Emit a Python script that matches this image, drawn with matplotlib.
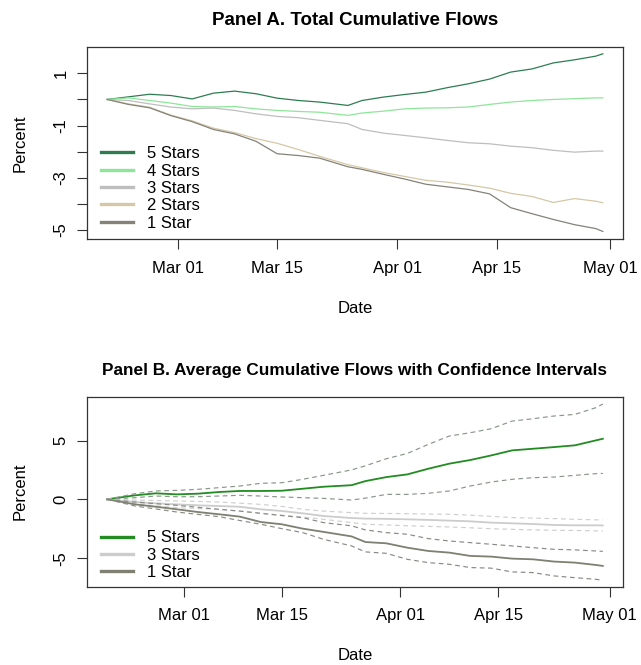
import matplotlib
matplotlib.use('Agg')
import matplotlib.pyplot as plt
import matplotlib.dates as mdates
import pandas as pd

plt.rcParams['font.family'] = ['Liberation Sans', 'DejaVu Sans']

# ---- Panel A: total cumulative flows (percent) ----
dates_a = ['2020-02-20', '2020-02-23', '2020-02-26', '2020-02-29', '2020-03-03',
           '2020-03-06', '2020-03-09', '2020-03-12', '2020-03-15', '2020-03-18',
           '2020-03-21', '2020-03-25', '2020-03-27', '2020-03-30', '2020-04-02',
           '2020-04-05', '2020-04-08', '2020-04-11', '2020-04-14', '2020-04-17',
           '2020-04-20', '2020-04-23', '2020-04-26', '2020-04-29', '2020-04-30']
a_5 = [0, 0.1, 0.2, 0.15, 0.02, 0.24, 0.32, 0.22, 0.05, -0.04, -0.1, -0.23, -0.04,
       0.09, 0.19, 0.28, 0.45, 0.6, 0.78, 1.05, 1.17, 1.4, 1.52, 1.66, 1.75]
a_4 = [0, 0.06, -0.04, -0.14, -0.27, -0.29, -0.27, -0.36, -0.42, -0.46, -0.49, -0.61,
       -0.52, -0.45, -0.36, -0.33, -0.32, -0.29, -0.19, -0.1, -0.04, 0.0, 0.03, 0.06, 0.06]
a_3 = [0, -0.04, -0.17, -0.29, -0.36, -0.33, -0.42, -0.55, -0.65, -0.7, -0.8, -0.93,
       -1.15, -1.29, -1.38, -1.47, -1.57, -1.66, -1.7, -1.79, -1.85, -1.95, -2.02, -1.98, -1.98]
a_2 = [0, -0.17, -0.3, -0.6, -0.82, -1.1, -1.27, -1.5, -1.68, -1.92, -2.18, -2.5, -2.62,
       -2.8, -2.95, -3.1, -3.17, -3.28, -3.4, -3.6, -3.72, -3.95, -3.8, -3.9, -3.96]
a_1 = [0, -0.19, -0.32, -0.62, -0.85, -1.15, -1.32, -1.6, -2.08, -2.15, -2.25, -2.58,
       -2.68, -2.87, -3.05, -3.25, -3.35, -3.45, -3.62, -4.15, -4.38, -4.6, -4.8, -4.95, -5.06]

# ---- Panel B: average cumulative flows with confidence intervals ----
dates_b = ['2020-02-19'] + dates_a[1:]
b_5 = [0, 0.34, 0.51, 0.42, 0.48, 0.62, 0.71, 0.71, 0.73, 0.9, 1.07, 1.2, 1.55, 1.89,
       2.12, 2.6, 3.03, 3.34, 3.73, 4.16, 4.3, 4.44, 4.59, 5.01, 5.15]
b_5_hi = [0, 0.48, 0.71, 0.76, 0.85, 0.99, 1.13, 1.36, 1.41, 1.7, 2.04, 2.5, 2.85, 3.45,
          3.9, 4.67, 5.38, 5.66, 6.0, 6.65, 6.85, 7.08, 7.22, 7.79, 8.1]
b_5_lo = [0, 0.14, 0.28, 0.22, 0.22, 0.28, 0.34, 0.28, 0.2, 0.14, 0.08, -0.06, 0.1, 0.42,
          0.42, 0.51, 0.71, 1.13, 1.47, 1.7, 1.84, 1.89, 2.04, 2.18, 2.2]
b_3 = [0, -0.23, -0.34, -0.43, -0.51, -0.57, -0.63, -0.85, -0.99, -1.19, -1.42, -1.59,
       -1.64, -1.66, -1.7, -1.75, -1.81, -1.87, -1.98, -2.04, -2.1, -2.18, -2.21, -2.21, -2.22]
b_3_hi = [0, -0.06, -0.1, -0.14, -0.18, -0.23, -0.33, -0.43, -0.6, -0.85, -1.0, -1.13,
          -1.19, -1.2, -1.22, -1.25, -1.27, -1.35, -1.45, -1.55, -1.6, -1.64, -1.7, -1.74, -1.76]
b_3_lo = [0, -0.37, -0.55, -0.71, -0.78, -0.85, -1.0, -1.19, -1.35, -1.5, -1.7, -1.98,
          -2.12, -2.18, -2.25, -2.3, -2.35, -2.42, -2.5, -2.55, -2.6, -2.63, -2.65, -2.68, -2.69]
b_1 = [0, -0.43, -0.63, -0.85, -1.08, -1.27, -1.47, -1.93, -2.12, -2.49, -2.77, -3.15,
       -3.63, -3.74, -4.11, -4.39, -4.53, -4.81, -4.87, -5.04, -5.1, -5.29, -5.38, -5.58, -5.66]
b_1_hi = [0, -0.23, -0.37, -0.51, -0.68, -0.85, -1.0, -1.19, -1.38, -1.56, -1.98, -2.25,
          -2.6, -2.83, -2.97, -3.34, -3.54, -3.68, -3.82, -3.96, -4.11, -4.25, -4.3, -4.39, -4.42]
b_1_lo = [0, -0.57, -0.82, -1.08, -1.28, -1.47, -1.8, -2.12, -2.49, -2.83, -3.4, -3.96,
          -4.47, -4.59, -5.1, -5.38, -5.52, -5.8, -5.85, -6.17, -6.23, -6.51, -6.66, -6.8, -6.88]

labels_a = ['5 Stars', '4 Stars', '3 Stars', '2 Stars', '1 Star']
colors_a = ['#2e7d52', '#8ee69a', '#bebebe', '#d4c8a6', '#85827a']
labels_b = ['5 Stars', '3 Stars', '1 Star']
colors_b = ['#228b22', '#cccccc', '#7f7f72']
ci_colors = ['#8a968a', '#cfcfcf', '#8a8a84']


def style(ax, title, title_size, yticks, yticklabels, ylim, dates):
    d = pd.to_datetime(dates)
    span = d[-1] - d[0]
    ax.set_xlim(d[0] - 0.04 * span, d[-1] + 0.04 * span)
    ax.set_ylim(*ylim)
    ax.set_yticks(yticks)
    ax.set_yticklabels(yticklabels, rotation=90, va='center')
    ax.xaxis.set_major_locator(mdates.MonthLocator(bymonthday=(1, 15)))
    ax.xaxis.set_major_formatter(mdates.DateFormatter('%b %d'))
    ax.tick_params(length=7, width=0.8, labelsize=12, color='#333333')
    ax.tick_params(axis='x', pad=8.5)
    ax.tick_params(axis='y', pad=6.5)
    for s in ax.spines.values():
        s.set_linewidth(0.9)
        s.set_color('#333333')
    ax.set_title(title, fontsize=title_size, fontweight='bold', pad=16)
    ax.set_xlabel('Date', fontsize=12, labelpad=18)
    ax.set_ylabel('Percent', fontsize=12, labelpad=19)


def add_legend(ax, y0):
    leg = ax.legend(loc='lower left', bbox_to_anchor=(0.0255, y0), frameon=False,
                    fontsize=12, handlelength=1.9, handletextpad=0.85,
                    labelspacing=0.14, borderaxespad=0, borderpad=0)
    for ln in leg.get_lines():
        ln.set_linewidth(2.4)


fig = plt.figure(figsize=(6.41, 6.65), dpi=100)
ax_a = fig.add_axes([0.1362, 0.6402, 0.8352, 0.2887])
ax_b = fig.add_axes([0.1362, 0.1177, 0.8352, 0.2857])

# Panel A
xa = pd.to_datetime(dates_a)
for vals, lab, col in zip([a_5, a_4, a_3, a_2, a_1], labels_a, colors_a):
    ax_a.plot(xa, vals, color=col, lw=0.9, label=lab)
style(ax_a, 'Panel A. Total Cumulative Flows', 13.5, range(-5, 2),
      ['-5', '', '-3', '', '-1', '', '1'], (-5.36, 2.0), dates_a)
add_legend(ax_a, 0.045)

# Panel B
xb = pd.to_datetime(dates_b)
for mid, hi, lo, lab, col, cc in zip([b_5, b_3, b_1], [b_5_hi, b_3_hi, b_1_hi],
                                     [b_5_lo, b_3_lo, b_1_lo], labels_b, colors_b, ci_colors):
    ax_b.plot(xb, mid, color=col, lw=1.3, label=lab)
    ax_b.plot(xb, hi, color=cc, lw=0.85, ls=(0, (4, 3)))
    ax_b.plot(xb, lo, color=cc, lw=0.85, ls=(0, (4, 3)))
style(ax_b, 'Panel B. Average Cumulative Flows with Confidence Intervals', 12.4,
      [-5, 0, 5], ['-5', '0', '5'], (-7.43, 8.72), dates_b)
add_legend(ax_b, 0.035)

fig.savefig('out.png', dpi=100)
